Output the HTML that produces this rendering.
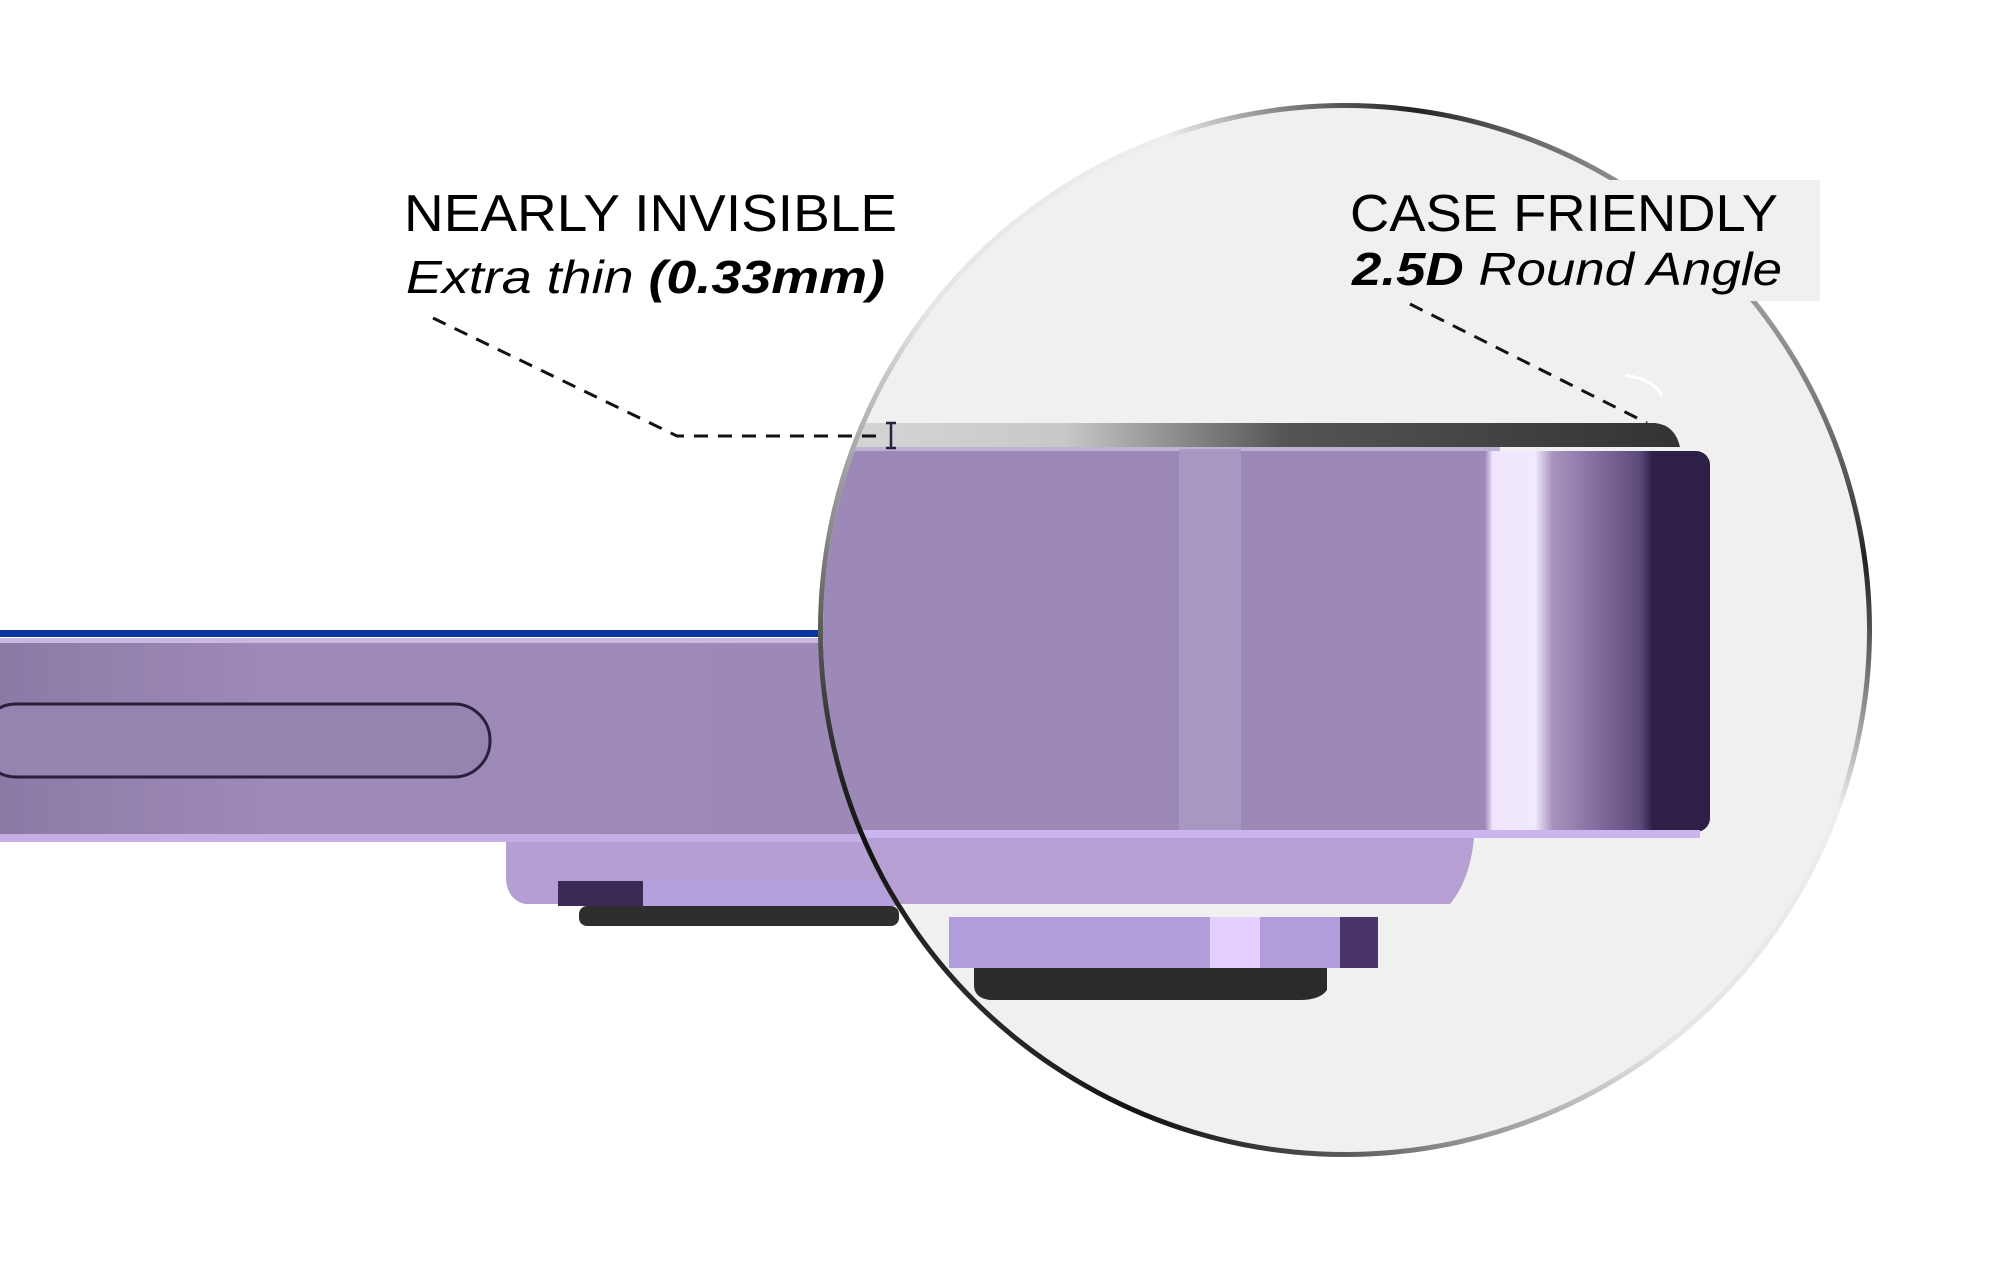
<!DOCTYPE html>
<html><head><meta charset="utf-8"><style>
html,body{margin:0;padding:0;background:#fff;}
svg{display:block}
</style></head><body>
<svg width="2000" height="1277" viewBox="0 0 2000 1277" xmlns="http://www.w3.org/2000/svg">
<defs>
<clipPath id="c"><circle cx="1345" cy="630" r="522"/></clipPath>
<linearGradient id="ring" x1="0" y1="1" x2="1" y2="0">
<stop offset="0" stop-color="#ccc"/><stop offset="0.17" stop-color="#111"/><stop offset="0.3" stop-color="#888"/><stop offset="0.45" stop-color="#e4e4e4"/><stop offset="0.65" stop-color="#eee"/><stop offset="0.78" stop-color="#222"/><stop offset="0.86" stop-color="#aaa"/><stop offset="1" stop-color="#e4e4e4"/>
</linearGradient>
<linearGradient id="top" x1="0" y1="0" x2="1" y2="0">
<stop offset="0" stop-color="#d8d8d8"/><stop offset="0.3" stop-color="#c8c8c8"/><stop offset="0.55" stop-color="#555"/><stop offset="1" stop-color="#333"/>
</linearGradient>
<linearGradient id="side" x1="0" y1="0" x2="1" y2="0">
<stop offset="0" stop-color="#9d89b8"/><stop offset="0.1" stop-color="#9d89b8"/><stop offset="0.13" stop-color="#efe6fb"/><stop offset="0.3" stop-color="#f1e9fd"/><stop offset="0.37" stop-color="#a893c0"/><stop offset="0.72" stop-color="#5d4a7c"/><stop offset="0.77" stop-color="#2e1f47"/><stop offset="1" stop-color="#2e1f47"/>
</linearGradient>
<linearGradient id="body" x1="0" y1="0" x2="1" y2="0">
<stop offset="0" stop-color="#8b7aa6"/><stop offset="0.3" stop-color="#9e8ab8"/><stop offset="1" stop-color="#9d89b8"/>
</linearGradient>
</defs>

<rect x="0" y="630" width="830" height="7" fill="#0a35a0"/>
<rect x="0" y="638" width="900" height="204" fill="url(#body)"/>
<rect x="0" y="638" width="900" height="5" fill="#c9b8e0"/>
<rect x="0" y="834" width="900" height="8" fill="#c5aee6"/>
<rect x="-20" y="704" width="510" height="73" rx="36" fill="#9484b0" stroke="#2a1f3d" stroke-width="3"/>
<path d="M506 842 L900 842 L900 904 L525 904 Q508 900 506 880 Z" fill="#b49fd2"/>
<rect x="558" y="881" width="340" height="25" fill="#b3a0dc"/>
<rect x="558" y="881" width="85" height="25" fill="#3b2a55"/>
<rect x="579" y="906" width="320" height="20" rx="8" fill="#2e2e2e"/>

<circle cx="1345" cy="630" r="527" fill="url(#ring)"/>
<circle cx="1345" cy="630" r="522" fill="#f0f0f0"/>
<g clip-path="url(#c)">
  <path d="M800 423 L1655 423 Q1675 425 1680 447 L800 447 Z" fill="url(#top)"/>
  <rect x="800" y="447" width="700" height="4" fill="#bfb0d6"/>
  <rect x="800" y="451" width="910" height="381" rx="14" fill="#9d89b8"/>
  <rect x="1460" y="451" width="250" height="381" rx="14" fill="url(#side)"/>
  <rect x="1179" y="449" width="62" height="396" fill="#a899c4" opacity="0.9"/>
  <rect x="800" y="830" width="900" height="8" fill="#cbb5ee"/>
  <path d="M800 838 L1474 838 Q1470 880 1450 904 L800 904 Z" fill="#b59fd3"/>
  <rect x="949" y="917" width="429" height="51" fill="#b19ddb"/>
  <rect x="1210" y="917" width="50" height="51" fill="#e4d0ff"/>
  <rect x="1340" y="917" width="38" height="51" fill="#4a3468"/>
  <path d="M974 968 L1327 968 L1327 990 Q1320 1000 1300 1000 L990 1000 Q974 998 974 985 Z" fill="#2b2b2b"/>
</g>

<path d="M891 423 L891 448 M886 423 L896 423 M886 448 L896 448" stroke="#2a1f3d" stroke-width="2.5" fill="none"/>
<path d="M433 318 L677 436 L885 436" stroke="#111" stroke-width="3" stroke-dasharray="14 10" fill="none"/>
<path d="M1410 304 L1647 423" stroke="#111" stroke-width="3" stroke-dasharray="14 10" fill="none"/>
<path d="M1625 375 Q1655 380 1662 396" stroke="#fff" stroke-width="3" fill="none"/>

<rect x="1333" y="180" width="487" height="121" fill="#f0f0f0"/>
<text x="404" y="231" font-family="Liberation Sans, sans-serif" font-size="52" fill="#000" textLength="493" lengthAdjust="spacingAndGlyphs">NEARLY INVISIBLE</text>
<text x="406" y="293" font-family="Liberation Sans, sans-serif" font-size="46" font-style="italic" fill="#000" textLength="479" lengthAdjust="spacingAndGlyphs"><tspan font-weight="300">Extra thin </tspan><tspan font-weight="bold">(0.33mm)</tspan></text>
<text x="1350" y="231" font-family="Liberation Sans, sans-serif" font-size="52" fill="#000" textLength="428" lengthAdjust="spacingAndGlyphs">CASE FRIENDLY</text>
<text x="1352" y="285" font-family="Liberation Sans, sans-serif" font-size="46" font-style="italic" fill="#000" textLength="430" lengthAdjust="spacingAndGlyphs"><tspan font-weight="bold">2.5D</tspan> Round Angle</text>
</svg>
</body></html>
